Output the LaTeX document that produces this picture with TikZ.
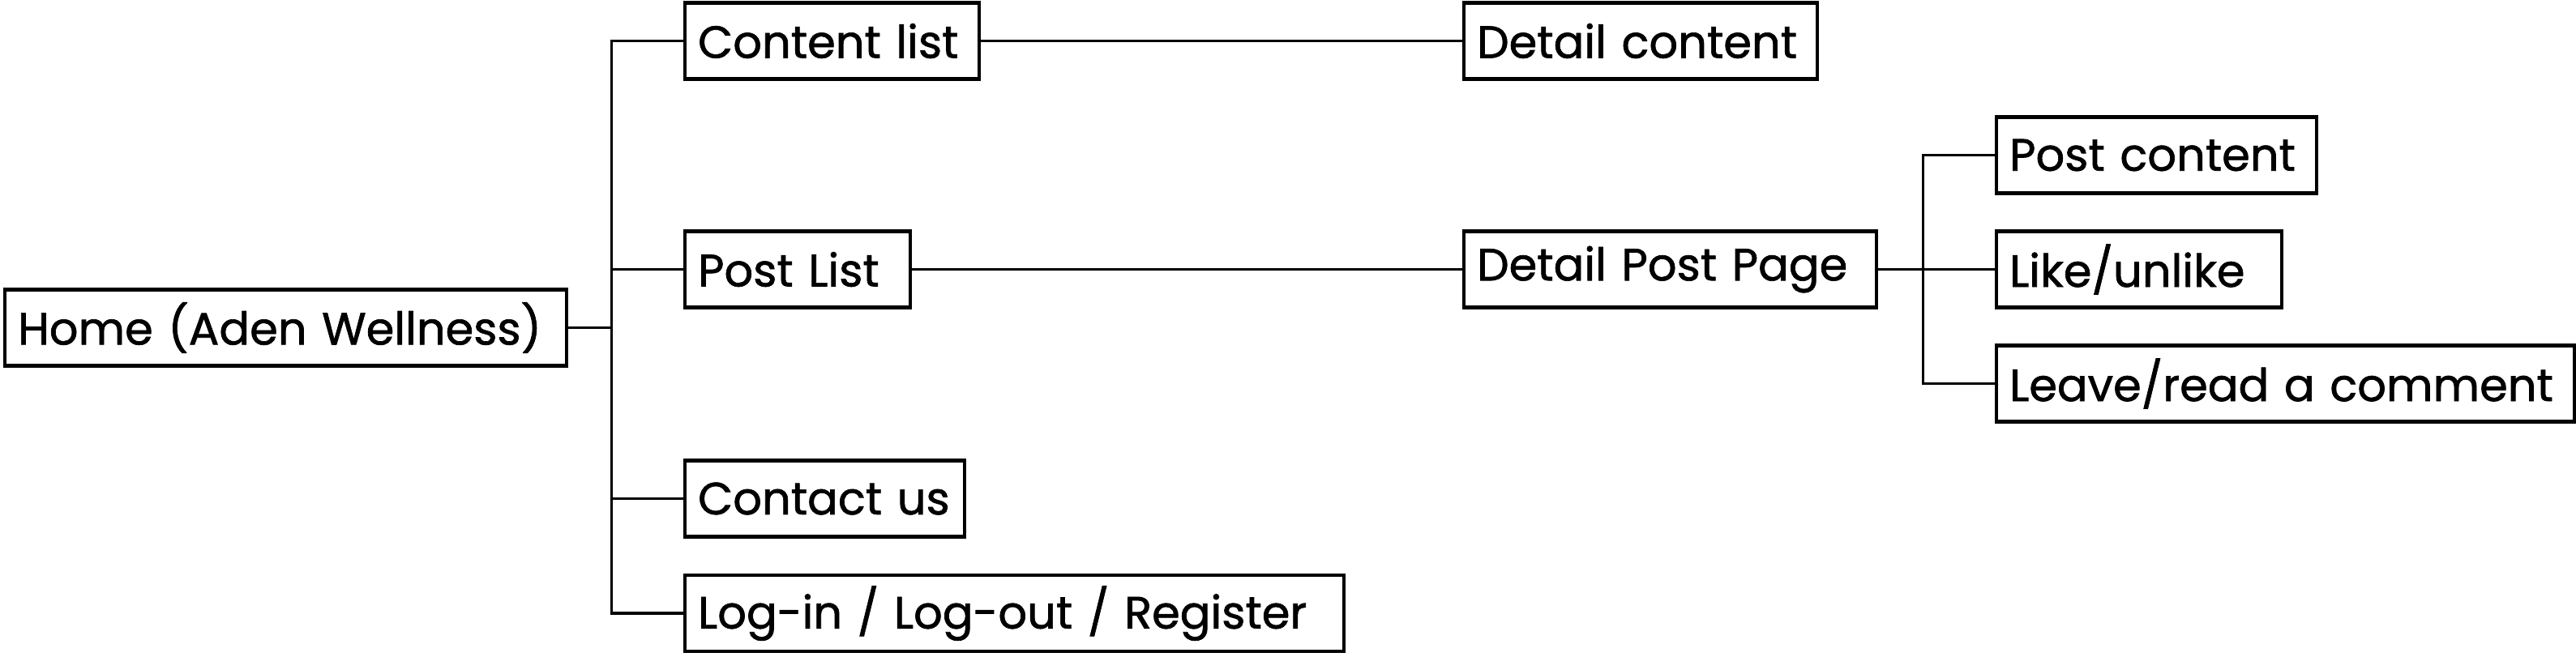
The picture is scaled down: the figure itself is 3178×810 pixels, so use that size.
\documentclass[tikz,border=0pt]{standalone}
\usepackage{fontspec}
\setmainfont{Poppins}
\newfontfamily\pagefont{Poppins}[FakeBold=1.2]
\usetikzlibrary{positioning}
\tikzset{
  page/.style = {draw, line width=1.2pt, inner xsep=1.6mm, inner ysep=0pt, minimum height=9.4mm, align=left,
    font=\pagefont\fontsize{15.9}{18}\selectfont, anchor=west},
  link/.style = {line width=0.9pt}
}

\begin{document}
\begin{tikzpicture}[x=0.1mm, y=-0.1mm]
\useasboundingbox (0,0) rectangle (3178,810);
% first level
\node[page, text width=66.1mm] (home) at (4,404.5) {Home (Aden Wellness)};
\node[page, text width=33.1mm] (clist) at (843,50.5) {Content list};
\node[page, text width=24.6mm] (plist) at (843,332.5) {Post List};
\node[page, text width=31.3mm] (contact) at (843,615.5) {Contact us};
\node[page, text width=78.1mm] (login) at (843,757) {Log-in / Log-out / Register};
% second level
\node[page, text width=40.4mm] (dcontent) at (1804,50.5) {Detail content};
\node[page, text width=47.7mm] (dpost) at (1804,332.5) {Detail Post Page};
% third level
\node[page, text width=36.3mm] (pcontent) at (2461,191.5) {Post content};
\node[page, text width=32.0mm] (like) at (2461,332.5) {Like/unlike};
\node[page, text width=68.1mm] (leave) at (2461,473.5) {Leave/read a comment};

\draw[link] (home.east) -- ++(53,0) |- (clist.west);
\draw[link] (home.east) -- ++(53,0) |- (plist.west);
\draw[link] (home.east) -- ++(53,0) |- (contact.west);
\draw[link] (home.east) -- ++(53,0) |- (login.west);
\draw[link] (clist) -- (dcontent);
\draw[link] (plist) -- (dpost);
\draw[link] (dpost.east) -- ++(55,0) |- (pcontent.west);
\draw[link] (dpost.east) -- (like.west);
\draw[link] (dpost.east) -- ++(55,0) |- (leave.west);
\end{tikzpicture}
\end{document}
